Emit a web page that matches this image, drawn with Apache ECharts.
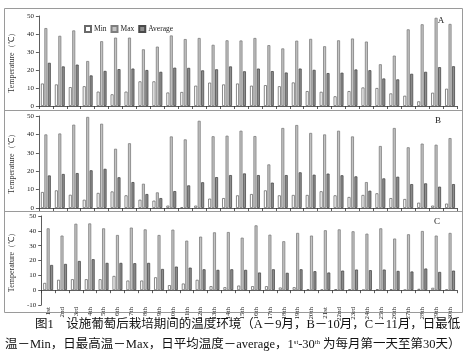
<!DOCTYPE html>
<html><head><meta charset="utf-8">
<script src="https://cdn.jsdelivr.net/npm/echarts@6/dist/echarts.min.js"></script>
<style>html,body{margin:0;padding:0;background:#fff}#c{width:470px;height:361px}</style>
</head><body><div id="c"></div>
<script>
const days = ['1st','2nd','3rd','4th','5th','6th','7th','8th','9th','10th','11th','12th','13th','14th','15th','16th','17th','18th','19th','20th','21st','22nd','23rd','24th','25th','26th','27th','28th','29th','30th'];
const seriesNames = ['Min','Max','Average'];
const panelLabels = ['A','B','C'];

const minA = [12.5,12,10.5,11,8,6.5,8,13.7,13.7,7.5,7.8,11.3,13,12,12.5,11.3,11.6,11,13.1,8.3,7.9,5.4,8.3,10.3,10,7,5.7,2.6,7.4,9.6];
const maxA = [43.3,39,42,25,36,38,38,31.5,33,39.2,37.2,37.8,34,36.5,36.4,37.8,33.8,32,36.3,37.3,33.2,36.5,37.5,35.8,23.2,28,42.6,45.4,49,45.6];
const avgA = [24,22,23,17,19.5,20.5,20.8,20,19,21.3,21.2,19.8,20.4,22,19.3,20.8,19.4,18.6,20.8,20.1,18.3,18.5,20.3,19.9,15.3,14.8,17.9,19,21.6,22.1];

const minB = [8.7,9.6,7.2,4.5,8.2,9,6.9,4.5,4,1.3,0.4,1.3,5.1,5.4,6.9,7.6,9.6,6.9,7.1,7.1,9.1,6.9,6,7.1,8,5.4,4.9,2.9,1.3,2.4];
const maxB = [40,40.5,45.3,49.5,45.8,32.2,35.2,13.2,8.5,38.9,37.3,47.4,39,39.3,42,39.1,23.7,43.5,45.1,40.8,40,42,38.9,14.1,33.7,43.5,33,35,34.4,38];
const avgB = [17.7,18.5,19,20.5,21.3,16.7,14.1,7.6,5.4,9.2,12.3,14,16.8,17.9,18.8,17.9,13.8,17.9,19.4,18.1,18.7,17.8,17.2,9.4,16.1,17,13,13.4,11.6,13];

const minC = [4.9,7,7.4,7.4,7.4,9.6,6.5,6.5,8.7,3.4,4.5,7,2.7,2,3.1,2.7,2.7,1.8,2,0.7,0.4,0.7,0.7,0.2,0.7,0.7,0.2,0.9,1.6,0.4];
const maxC = [41.7,36.8,44.8,45,41.7,37.2,42.2,41,37.2,40.8,33.4,36.1,39,39.2,35.4,43.7,37.4,33,38.6,36.8,40.4,41,39.7,38.1,41.7,34.8,37.7,39.9,36.8,38.6];
const avgC = [17,17.7,19.7,20.9,18.4,18.4,18.2,18.4,14.3,15.9,15.2,14.1,13.7,14.1,13.7,11.9,14.1,11.7,14.1,12.8,11.9,13.2,13.9,13.5,13.9,13,12.6,14.6,12.3,13.2];

const yMinAB = 0, yMinC = -10, yMax = 50, yStep = 10;
const yTitle = 'Temperature（℃）';
const captionLine1 = '图1　设施葡萄后栽培期间的温度环境（A－9月，B－10月，C－11月，日最低';
const captionLine2 = '温－Min，日最高温－Max，日平均温度－average，1{sup|st}-30{sup|th} 为每月第一天至第30天）';

const SERIF = '"Liberation Serif","Times New Roman",serif';
const CAP_FONT = '"Liberation Serif","Noto Sans CJK SC",serif';
const panels = [[minA,maxA,avgA],[minB,maxB,avgB],[minC,maxC,avgC]];
const styles = [
  {color:'#ffffff', borderColor:'#6a6a6a', borderWidth:0.8},
  {color:'#c4c4c4', borderColor:'#7e7e7e', borderWidth:0.8},
  {color:'#8e8e8e', borderColor:'#4a4a4a', borderWidth:0.8}
];
const grids = [
  {left:34, right:13, top:16, height:90},
  {left:34, right:13, top:116, height:92},
  {left:34, right:13, top:216, height:89}
];
const xAxes = grids.map((g,i)=>({
  type:'category', gridIndex:i, data:days, boundaryGap:true,
  axisLine:{show:true, onZero:true, lineStyle:{color:'#333', width:0.8}},
  axisTick:{show:true, interval:0, length:3, lineStyle:{color:'#333', width:0.8}},
  axisLabel:{show:i===2, interval:0, rotate:90, fontSize:7, fontFamily:SERIF, color:'#222', margin:2}
}));
const yAxes = grids.map((g,i)=>({
  type:'value', gridIndex:i, min: i===2 ? yMinC : yMinAB, max:yMax, interval:yStep,
  name:yTitle, nameLocation:'middle', nameGap:18,
  nameTextStyle:{fontSize:8, fontFamily:SERIF, color:'#333'},
  axisLine:{show:true, lineStyle:{color:'#333', width:0.8}},
  axisTick:{show:true, length:3, lineStyle:{color:'#333', width:0.8}},
  axisLabel:{fontSize:7, fontFamily:SERIF, color:'#222', margin:5},
  splitLine:{show:false}
}));
const series = [];
panels.forEach((p,i)=>{
  p.forEach((arr,k)=>{
    series.push({
      type:'bar', name:seriesNames[k], xAxisIndex:i, yAxisIndex:i, data:arr,
      barWidth:3, barGap:'15%', itemStyle:styles[k], silent:true, animation:false
    });
  });
});
const labelPos = [[441,21],[438,121],[437,222]];
const graphic = [
  {type:'rect', shape:{x:4.5, y:8.5, width:458, height:304}, style:{fill:'none', stroke:'#9a9a9a', lineWidth:1}},
  {type:'line', shape:{x1:4.5, y1:110.5, x2:462.5, y2:110.5}, style:{stroke:'#9a9a9a', lineWidth:1}},
  {type:'line', shape:{x1:4.5, y1:211.5, x2:462.5, y2:211.5}, style:{stroke:'#9a9a9a', lineWidth:1}}
].concat(panelLabels.map((t,i)=>({
  type:'text', x:labelPos[i][0], y:labelPos[i][1],
  style:{text:t, font:'9px '+SERIF, fill:'#222', verticalAlign:'middle', align:'center'}
}))).concat([
  {type:'text', x:35, y:325, style:{text:captionLine1, font:'12.5px '+CAP_FONT, fill:'#111', verticalAlign:'middle'}},
  {type:'text', x:5, y:345, style:{text:captionLine2, font:'12.5px '+CAP_FONT, fill:'#111', verticalAlign:'middle',
    rich:{sup:{fontSize:6.5, fontFamily:CAP_FONT, fill:'#111', verticalAlign:'top', padding:[0,0,6,0]}}}}
]);
const chart = echarts.init(document.getElementById('c'), null, {renderer:'canvas'});
chart.setOption({
  animation:false,
  backgroundColor:'#fff',
  legend:{data:seriesNames, left:79, top:20, itemWidth:6, itemHeight:6, itemGap:4, icon:'rect',
    textStyle:{fontSize:7.5, fontFamily:SERIF, color:'#222', padding:[0,0,0,-2]}},
  grid:grids, xAxis:xAxes, yAxis:yAxes, series:series, graphic:graphic
});
</script></body></html>
